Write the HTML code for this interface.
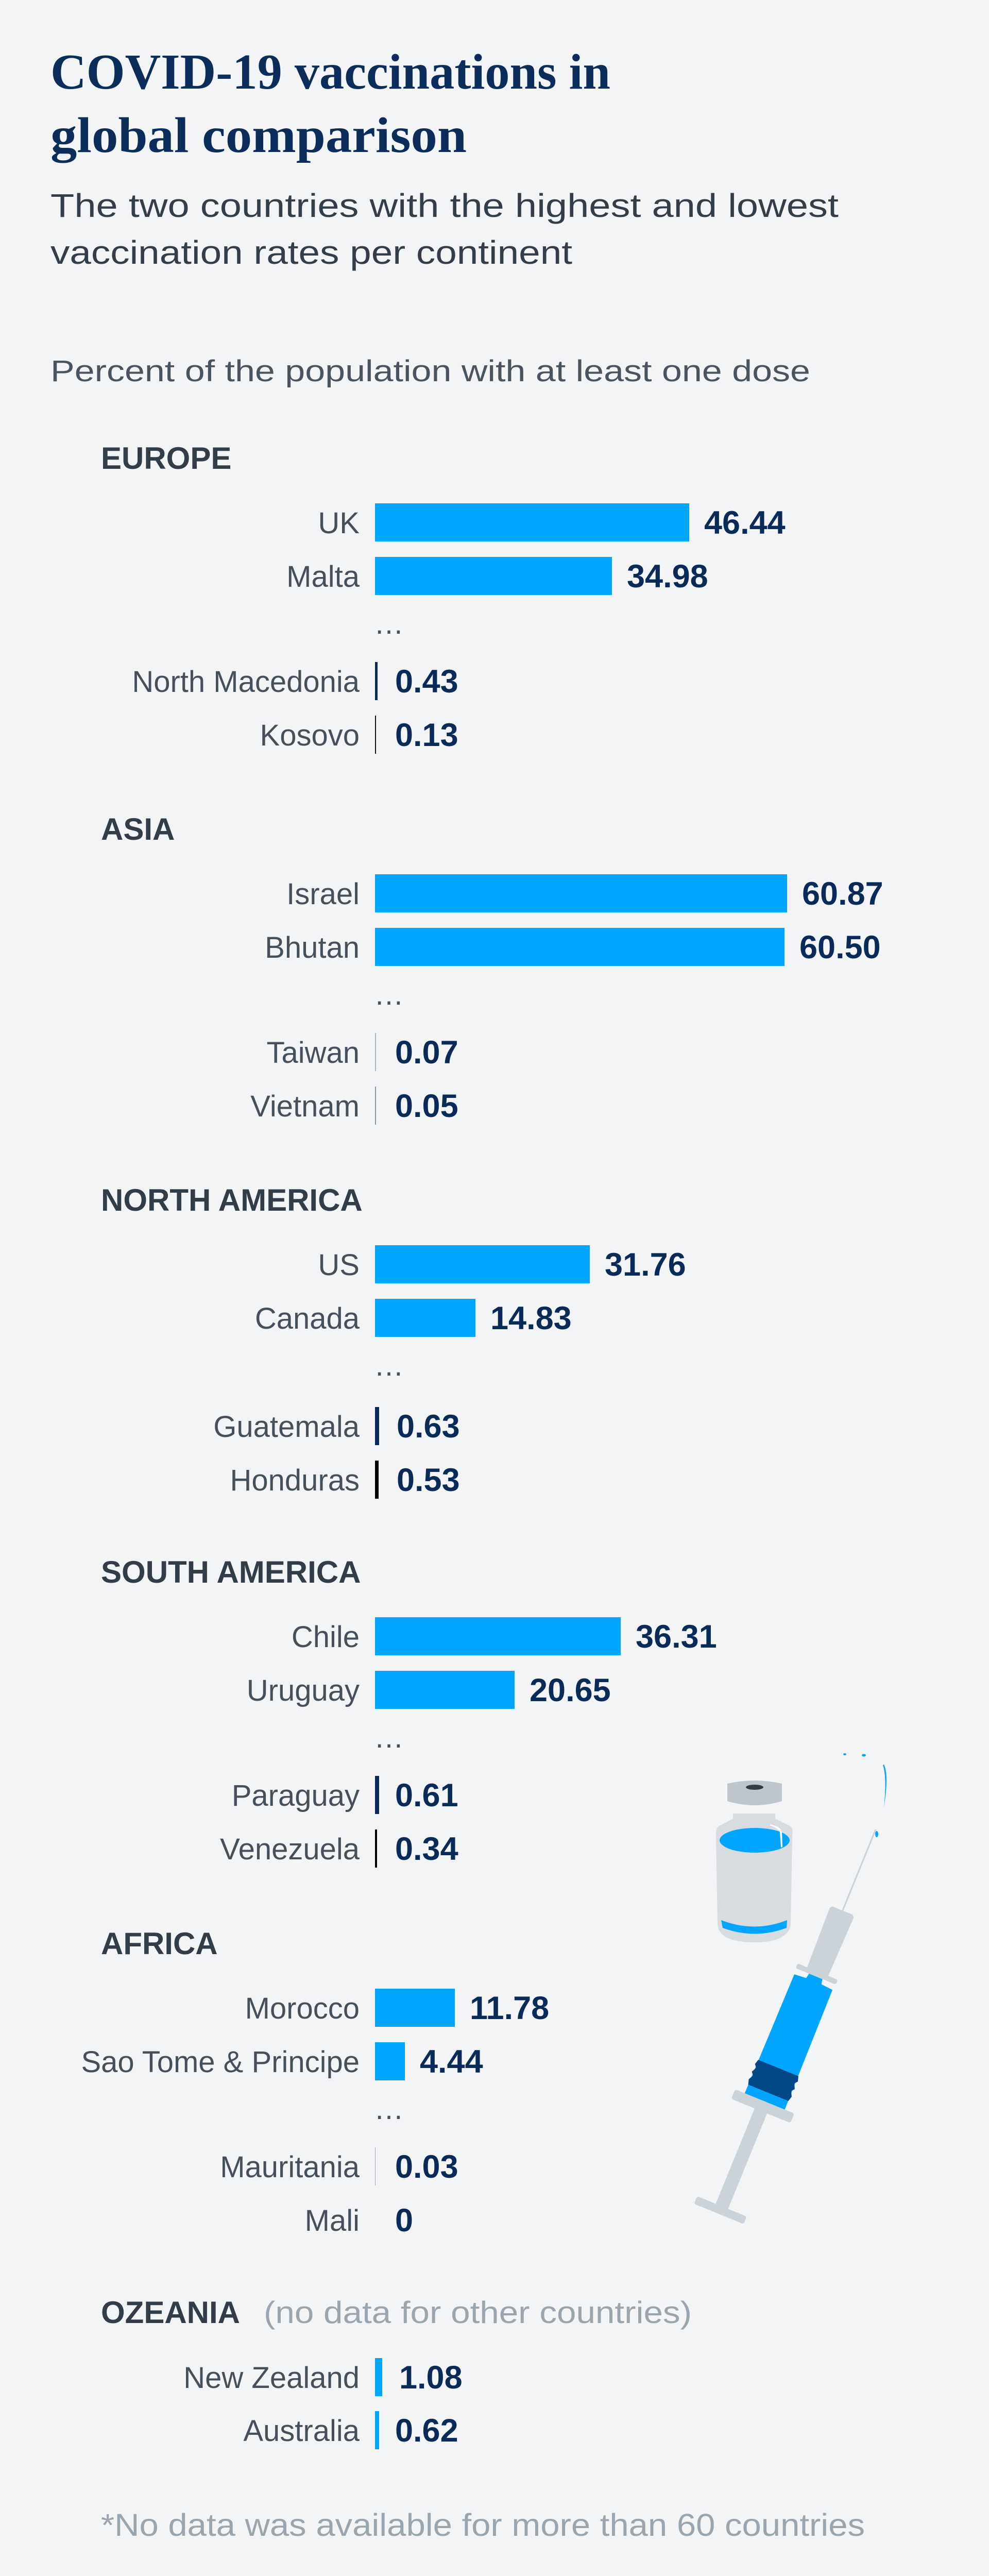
<!DOCTYPE html>
<html><head><meta charset="utf-8"><style>
html,body{margin:0;padding:0;background:#f2f4f6;width:1920px;height:5276px;overflow:hidden;}
svg{display:block;}
.lb{font-family:"Liberation Sans",sans-serif;font-size:58px;fill:#46505a;text-anchor:end;}
.vl{font-family:"Liberation Sans",sans-serif;font-size:63px;font-weight:bold;fill:#0a2b57;}
.hd{font-family:"Liberation Sans",sans-serif;font-size:60px;font-weight:bold;fill:#333d47;}
.dt{font-family:"Liberation Sans",sans-serif;font-size:58px;fill:#46505a;}
</style></head><body>
<svg width="1920" height="5276" viewBox="0 0 1920 5276" xmlns="http://www.w3.org/2000/svg">
<rect width="1920" height="5276" fill="#f2f4f6"/>
<text x="98" y="172" font-family="Liberation Serif,serif" font-weight="bold" font-size="98" fill="#0c2d5a" textLength="1087" lengthAdjust="spacingAndGlyphs">COVID-19 vaccinations in</text>
<text x="98" y="295" font-family="Liberation Serif,serif" font-weight="bold" font-size="98" fill="#0c2d5a" textLength="808" lengthAdjust="spacingAndGlyphs">global comparison</text>
<text x="98" y="421" font-family="Liberation Sans,sans-serif" font-size="64" fill="#343e48" textLength="1530" lengthAdjust="spacingAndGlyphs">The two countries with the highest and lowest</text>
<text x="98" y="512" font-family="Liberation Sans,sans-serif" font-size="64" fill="#343e48" textLength="1013" lengthAdjust="spacingAndGlyphs">vaccination rates per continent</text>
<text x="98" y="740" font-family="Liberation Sans,sans-serif" font-size="58" fill="#4a545e" textLength="1475" lengthAdjust="spacingAndGlyphs">Percent of the population with at least one dose</text>

<text class="hd" x="196" y="910">EUROPE</text>
<rect x="728" y="977" width="610" height="74" fill="#00a5ff"/><text class="lb" x="698" y="1035">UK</text><text class="vl" x="1367" y="1036">46.44</text>
<rect x="728" y="1081" width="460" height="74" fill="#00a5ff"/><text class="lb" x="698" y="1139">Malta</text><text class="vl" x="1217" y="1140">34.98</text>
<text class="dt" x="726" y="1230">…</text>
<rect x="728" y="1285" width="5" height="74" fill="#0a2b57"/><text class="lb" x="698" y="1343">North Macedonia</text><text class="vl" x="767" y="1344">0.43</text>
<rect x="728" y="1389" width="2" height="74" fill="#111"/><text class="lb" x="698" y="1447">Kosovo</text><text class="vl" x="767" y="1448">0.13</text>

<text class="hd" x="196" y="1630">ASIA</text>
<rect x="728" y="1697" width="800" height="74" fill="#00a5ff"/><text class="lb" x="698" y="1755">Israel</text><text class="vl" x="1557" y="1756">60.87</text>
<rect x="728" y="1801" width="795" height="74" fill="#00a5ff"/><text class="lb" x="698" y="1859">Bhutan</text><text class="vl" x="1552" y="1860">60.50</text>
<text class="dt" x="726" y="1950">…</text>
<rect x="728" y="2005" width="2" height="74" fill="#aab6c2"/><text class="lb" x="698" y="2063">Taiwan</text><text class="vl" x="767" y="2064">0.07</text>
<rect x="728" y="2109" width="2" height="74" fill="#8a96a2"/><text class="lb" x="698" y="2167">Vietnam</text><text class="vl" x="767" y="2168">0.05</text>

<text class="hd" x="196" y="2350">NORTH AMERICA</text>
<rect x="728" y="2417" width="417" height="74" fill="#00a5ff"/><text class="lb" x="698" y="2475">US</text><text class="vl" x="1174" y="2476">31.76</text>
<rect x="728" y="2521" width="195" height="74" fill="#00a5ff"/><text class="lb" x="698" y="2579">Canada</text><text class="vl" x="952" y="2580">14.83</text>
<text class="dt" x="726" y="2670">…</text>
<rect x="728" y="2731" width="8" height="74" fill="#0a2b57"/><text class="lb" x="698" y="2789">Guatemala</text><text class="vl" x="770" y="2790">0.63</text>
<rect x="728" y="2835" width="7" height="74" fill="#000"/><text class="lb" x="698" y="2893">Honduras</text><text class="vl" x="770" y="2894">0.53</text>

<text class="hd" x="196" y="3072">SOUTH AMERICA</text>
<rect x="728" y="3139" width="477" height="74" fill="#00a5ff"/><text class="lb" x="698" y="3197">Chile</text><text class="vl" x="1234" y="3198">36.31</text>
<rect x="728" y="3243" width="271" height="74" fill="#00a5ff"/><text class="lb" x="698" y="3301">Uruguay</text><text class="vl" x="1028" y="3302">20.65</text>
<text class="dt" x="726" y="3392">…</text>
<rect x="728" y="3447" width="8" height="74" fill="#0a2b57"/><text class="lb" x="698" y="3505">Paraguay</text><text class="vl" x="767" y="3506">0.61</text>
<rect x="728" y="3551" width="4" height="74" fill="#000"/><text class="lb" x="698" y="3609">Venezuela</text><text class="vl" x="767" y="3610">0.34</text>

<text class="hd" x="196" y="3793">AFRICA</text>
<rect x="728" y="3860" width="155" height="74" fill="#00a5ff"/><text class="lb" x="698" y="3918">Morocco</text><text class="vl" x="912" y="3919">11.78</text>
<rect x="728" y="3964" width="58" height="74" fill="#00a5ff"/><text class="lb" x="698" y="4022">Sao Tome &amp; Principe</text><text class="vl" x="815" y="4023">4.44</text>
<text class="dt" x="726" y="4113">…</text>
<rect x="728" y="4168" width="1" height="74" fill="#9aa5ad"/><text class="lb" x="698" y="4226">Mauritania</text><text class="vl" x="767" y="4227">0.03</text>
<text class="lb" x="698" y="4330">Mali</text><text class="vl" x="767" y="4331">0</text>

<text class="hd" x="196" y="4509">OZEANIA</text>
<text x="512" y="4509" font-family="Liberation Sans,sans-serif" font-size="60" fill="#9aa5ad" textLength="831" lengthAdjust="spacingAndGlyphs">(no data for other countries)</text>
<rect x="728" y="4577" width="14" height="74" fill="#00a5ff"/><text class="lb" x="698" y="4635">New Zealand</text><text class="vl" x="775" y="4636">1.08</text>
<rect x="728" y="4680" width="8" height="74" fill="#00a5ff"/><text class="lb" x="698" y="4738">Australia</text><text class="vl" x="767" y="4739">0.62</text>

<text x="196" y="4922" font-family="Liberation Sans,sans-serif" font-size="61" fill="#9aa5ad" textLength="1483" lengthAdjust="spacingAndGlyphs">*No data was available for more than 60 countries</text>

<circle cx="171" cy="5169" r="29" fill="#0a2b57"/>
<circle cx="127" cy="5169" r="29" fill="#0a2b57"/>
<circle cx="127" cy="5169" r="21" fill="none" stroke="#fff" stroke-width="3"/>
<text x="127" y="5181" font-family="Liberation Sans,sans-serif" font-weight="bold" font-size="32" fill="#fff" text-anchor="middle">D</text>
<text x="172" y="5181" font-family="Liberation Sans,sans-serif" font-weight="bold" font-size="30" fill="#fff" text-anchor="middle">W</text>
<text x="289" y="5178" font-family="Liberation Sans,sans-serif" font-size="40" fill="#5a6570" textLength="760" lengthAdjust="spacingAndGlyphs">Source: Our World in Data, 6.4.2021</text>

<path d="M1423 3520 L1505 3520 L1505 3530 L1535 3545 Q1540 3550 1538 3565 L1535 3735 Q1530 3770 1465 3770 Q1395 3770 1393 3735 L1390 3565 Q1389 3550 1395 3545 L1423 3530 Z" fill="#d7dce0"/>
<ellipse cx="1465" cy="3572" rx="68" ry="24" fill="#00a5ff"/>
<path d="M1400 3727 Q1465 3752 1528 3727 L1527 3742 Q1465 3765 1403 3742 Z" fill="#00a5ff"/>
<path d="M1412 3462 Q1465 3450 1518 3462 L1518 3496 Q1465 3512 1412 3496 Z" fill="#bec5cc"/>
<ellipse cx="1465" cy="3469" rx="17" ry="5" fill="#333c45"/>
<path d="M1495 3541 Q1515 3545 1518 3555 L1519 3585 L1516 3586 L1514 3556 Q1510 3548 1495 3543 Z" fill="#fff"/>
<ellipse cx="1640" cy="3405" rx="3" ry="2" fill="#00a5ff"/>
<ellipse cx="1677" cy="3407" rx="4" ry="2.5" fill="#00a5ff"/>
<path d="M1716 3425 Q1726 3445 1716 3508 Q1722 3450 1714 3426 Z" fill="#00a5ff"/>
<ellipse cx="1702" cy="3560" rx="3" ry="6" fill="#00a5ff"/>
<g transform="translate(1700,3551) rotate(22.2)">
<rect x="-1.5" y="0" width="3" height="172" fill="#cbd2d8"/>
<path d="M-20 170 L20 170 Q26 172 25 180 L22 300 L-22 300 L-25 180 Q-26 172 -20 170 Z" fill="#cbd2d8"/>
<rect x="-42" y="298" width="84" height="10" rx="3" fill="#cbd2d8"/>
<path d="M-14 308 L14 308 L16 318 L40 320 L42 575 L-42 575 L-40 320 L-16 318 Z" fill="#00a5ff"/>
<path d="M-42 500 L42 500 L45 510 L40 516 L45 526 L40 532 L45 542 L42 552 L-42 552 L-45 542 L-40 532 L-45 526 L-40 516 L-45 510 Z" fill="#034886"/>
<rect x="-62" y="570" width="124" height="20" rx="4" fill="#cbd2d8"/>
<rect x="-13" y="588" width="26" height="205" fill="#cbd2d8"/>
<rect x="-52" y="790" width="104" height="16" rx="4" fill="#cbd2d8"/>
</g>
</svg>
</body></html>
